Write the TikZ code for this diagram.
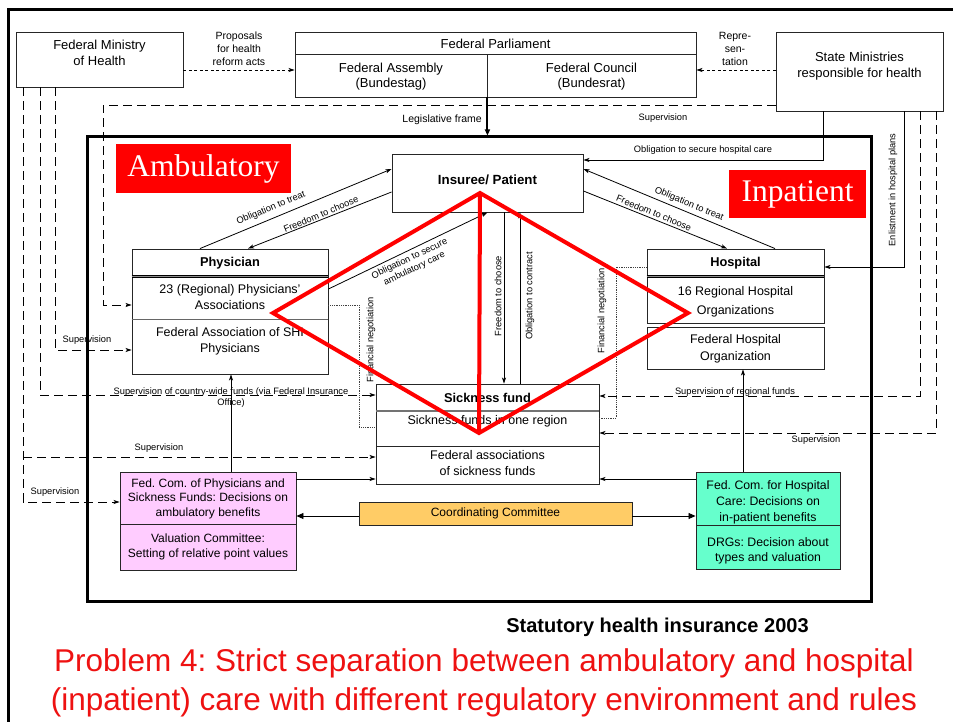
\documentclass[tikz,border=0pt]{standalone}
\usepackage{fontspec}
\setmainfont{Liberation Sans}
\newfontfamily\serifface{Liberation Serif}
\usetikzlibrary{arrows.meta,calc}
\frenchspacing

\definecolor{pinkbox}{HTML}{FFCCFF}
\definecolor{greenbox}{HTML}{66FFCC}
\definecolor{orangebox}{HTML}{FFCC66}
\definecolor{alarm}{HTML}{FF0000}
\definecolor{title}{HTML}{EE1111}

\begin{document}
\begin{tikzpicture}[x=1pt,y=-1pt,
  box/.style={draw=black!85, line width=0.9pt, inner sep=0pt},
  txt/.style={inner sep=0pt, align=center, font=\fontsize{12.5}{15.5}\selectfont},
  bold/.style={inner sep=0pt, align=center, font=\fontsize{12.8}{15}\selectfont\bfseries},
  small/.style={inner sep=0pt, align=center, font=\fontsize{9.3}{11}\selectfont},
  mid/.style={inner sep=0pt, align=center, font=\fontsize{10.5}{13}\selectfont},
  tag/.style={fill=alarm, inner sep=0pt, text=white, font=\fontsize{31.5}{34}\selectfont\serifface},
  arr/.style={line width=0.8pt, -{Stealth[length=6pt,width=4pt,inset=1.5pt]}},
  dsh/.style={dash pattern=on 9pt off 5pt},
  fdsh/.style={dash pattern=on 3pt off 2.5pt},
  dot/.style={line width=0.6pt, black!75, dash pattern=on 0.8pt off 1pt},
  tri/.style={line width=0.8pt, -{Triangle[length=7pt,width=6pt]}},
  redline/.style={alarm, line width=4pt, line join=miter}
]
\useasboundingbox (0,0) rectangle (953,722);

% frames
\draw[line width=3pt] (8,722) -- (8,10) -- (953,10);
\node[draw, line width=3pt, minimum width=784, minimum height=464, inner sep=0pt] (shi) at (479,369) {};

% top row
\node[box, minimum width=167, minimum height=55] (fmh) at (99.5,59.5) {};
\node[txt, font=\fontsize{13}{16}\selectfont] (fmht) at (99.5,53) {Federal Ministry\\of Health};

\node[box, minimum width=401, minimum height=22] (fpt) at (495.5,43) {};
\node[txt, font=\fontsize{13}{16}\selectfont] (fptt) at (495.5,44) {Federal Parliament};
\node[box, minimum width=192, minimum height=43] (fa) at (391,75.5) {};
\node[txt, font=\fontsize{13}{15.5}\selectfont] (fat) at (391,76.5) {Federal Assembly\\(Bundestag)};
\node[box, minimum width=209, minimum height=43] (fc) at (591.5,75.5) {};
\node[txt, font=\fontsize{13}{15.5}\selectfont] (fct) at (591.5,76.5) {Federal Council\\(Bundesrat)};

\node[box, minimum width=167, minimum height=79] (sm) at (859.5,71.5) {};
\node[txt, font=\fontsize{13}{16}\selectfont] (smt) at (859.5,66.5) {State Ministries\\responsible for health};

\node[mid] (prop) at (239,49) {Proposals\\for health\\reform acts};
\node[mid] (rep) at (735,49) {Repre-\\sen-\\tation};
\node[mid, anchor=east] (legt) at (482,120) {Legislative frame};

% patient
\node[box, minimum width=191, minimum height=58] (pat) at (487.5,183) {};
\node[bold, font=\fontsize{13.3}{15}\selectfont\bfseries] (patt) at (487.5,180) {Insuree/ Patient};

% physician
\node[box, minimum width=196, minimum height=27] (ph1) at (230,262.5) {};
\node[box, minimum width=196, minimum height=43] (ph2) at (230,297.5) {};
\node[box, minimum width=196, minimum height=55] (ph3) at (230,346.5) {};
\draw[line width=0.6pt, double=black!45, double distance=1.3pt] (ph1.south west) -- (ph1.south east);
\draw[black!60, line width=1.6pt] (ph2.south west) -- (ph2.south east);
\node[bold] (ph1t) at (230,263) {Physician};
\node[txt] (ph2t) at (230,297) {23 (Regional) Physicians'\\Associations};
\node[txt] (ph3t) at (230,341.5) {Federal Association of SHI\\Physicians};

% hospital
\node[box, minimum width=177, minimum height=27] (ho1) at (735.5,262.5) {};
\node[box, minimum width=177, minimum height=47] (ho2) at (735.5,299.5) {};
\node[box, minimum width=177, minimum height=42] (ho3) at (735.5,348) {};
\draw[line width=0.6pt, double=black!45, double distance=1.3pt] (ho1.south west) -- (ho1.south east);
\node[bold] (ho1t) at (735.5,263) {Hospital};
\node[txt, font=\fontsize{12.5}{19}\selectfont] (ho2t) at (735.5,301.5) {16 Regional Hospital\\Organizations};
\node[txt, font=\fontsize{12.5}{17}\selectfont] (ho3t) at (735.5,348.5) {Federal Hospital\\Organization};

% sickness fund
\node[box, minimum width=223, minimum height=27] (sf1) at (487.5,397.5) {};
\node[box, minimum width=223, minimum height=35] (sf2) at (487.5,428.5) {};
\node[box, minimum width=223, minimum height=38] (sf3) at (487.5,465) {};
\draw[black!55, line width=2pt] (sf1.south west) -- (sf1.south east);
\node[bold] (sf1t) at (487.5,398) {Sickness fund};
\node[txt] (sf2t) at (487.5,421) {Sickness funds in one region};
\node[txt, font=\fontsize{12.5}{16}\selectfont] (sf3t) at (487.5,463) {Federal associations\\of sickness funds};

% committees
\node[box, fill=pinkbox, minimum width=176, minimum height=52] (pk1) at (208,498) {};
\node[box, fill=pinkbox, minimum width=176, minimum height=46] (pk2) at (208,547) {};
\node[txt, font=\fontsize{12}{14.5}\selectfont] (pk1t) at (208,498.5) {Fed. Com. of Physicians and\\Sickness Funds: Decisions on\\ambulatory benefits};
\node[txt, font=\fontsize{12}{14.5}\selectfont] (pk2t) at (208,547) {Valuation Committee:\\Setting of relative point values};

\node[box, fill=orangebox, minimum width=273, minimum height=23] (cc) at (495.5,513.5) {};
\node[txt, font=\fontsize{12}{14}\selectfont] (cct) at (495.5,513.5) {Coordinating Committee};

\node[box, fill=greenbox, minimum width=144, minimum height=53] (gr1) at (768,498.5) {};
\node[box, fill=greenbox, minimum width=144, minimum height=44] (gr2) at (768,547) {};
\node[txt, font=\fontsize{12.3}{16}\selectfont] (gr1t) at (768,502) {Fed. Com. for Hospital\\Care: Decisions on\\in-patient benefits};
\node[txt, font=\fontsize{12.3}{15}\selectfont] (gr2t) at (768,550.5) {DRGs: Decision about\\types and valuation};

% sector tags
\node[tag, minimum width=175, minimum height=49] (amb) at (203.5,168.5) {Ambulatory};
\node[tag, minimum width=137, minimum height=48] (inp) at (797.5,194) {Inpatient};

% legislation and representation
\draw[fdsh, arr] (fmh.east |- 0,70) -- (fa.west |- 0,70);
\draw[fdsh, arr] (sm.west |- 0,70) -- (fc.east |- 0,70);
\draw[line width=2pt, -{Triangle[length=6pt,width=5pt]}] (fa.south east) -- (fa.south east |- shi.north);

% supervision by the federal ministry
\draw[dsh, arr] (fmh.south -| 23,0) -- (23,502) -- (pk1.west |- 0,502);
\draw[dsh, arr] (23,457) -- (sf3.west |- 0,457);
\draw[dsh, arr] (fmh.south -| 40,0) -- (40,395) -- (sf1.west |- 0,395);
\draw[dsh, arr] (fmh.south -| 55,0) -- (55,350) -- (ph3.west |- 0,350);
\node[small] (sv1) at (55,492) {Supervision};
\node[small] (sv2) at (159,448) {Supervision};
\node[small] (sv3) at (87,340) {Supervision};
\node[small] (sv4) at (231,397.5) {Supervision of country-wide funds (via Federal Insurance\\Office)};

% state ministries
\draw[dsh, arr] (sm.west |- 0,105) -- (103,105) -- (103,305) -- (ph2.west |- 0,305);
\node[small] (sv5) at (663,118) {Supervision};
\draw[arr] (sm.south -| 823,0) -- (823,160) -- (pat.east |- 0,160);
\node[small] (osh) at (703,150) {Obligation to secure hospital care};
\draw[arr] (sm.south -| 904,0) -- (904,267) -- (ho1.east |- 0,267);
\node[small, rotate=90] (enl) at (893,190) {Enlistment in hospital plans};
\draw[dsh, arr] (sm.south -| 920,0) -- (920,396) -- (sf1.east |- 0,396);
\node[small] (svr) at (735,392) {Supervision of regional funds};
\draw[dsh, arr] (sm.south -| 936,0) -- (936,433) -- (sf2.east |- 0,433);
\node[small] (sv6) at (816,440) {Supervision};

% patient relations
\draw[arr] (ph1.north -| 200,0) -- (pat.west |- 0,169);
\draw[arr] (pat.west |- 0,192) -- (ph1.north -| 248,0);
\node[small, rotate=22.7] (pot) at (271,208) {Obligation to treat};
\node[small, rotate=22.7] (pfc) at (321,214) {Freedom to choose};
\draw[arr] (ho1.north -| 775,0) -- (pat.east |- 0,169);
\draw[arr] (pat.east |- 0,191) -- (ho1.north -| 727,0);
\node[small, rotate=-22.6] (hot) at (689,204) {Obligation to treat};
\node[small, rotate=-22.6] (hfc) at (654,213) {Freedom to choose};
\draw[arr] (ph2.east |- 0,289) -- (pat.south);
\node[small, rotate=25.6] (osa) at (412,264) {Obligation to secure\\ambulatory care};
\draw[arr] (pat.south -| 504,0) -- (sf1.north -| 504,0);
\draw[arr] (sf1.north -| 520,0) -- (pat.south -| 520,0);
\node[small, rotate=90] (sfc) at (498,296) {Freedom to choose};
\node[small, rotate=90] (soc) at (530,296) {Obligation to contract};

% financial negotiations
\draw[dot] (ph2.east |- 0,305) -- (359,305) -- (359,427) -- (sf2.west |- 0,427);
\node[small, rotate=90] (fnl) at (371,340) {Financial negotiation};
\draw[dot] (ho1.west |- 0,267) -- (616,267) -- (616,418) -- (sf2.east |- 0,418);
\node[small, rotate=90] (fnr) at (602,311) {Financial negotiation};

% committees to providers and funds
\draw[arr] (pk1.north -| 231,0) -- (ph3.south -| 231,0);
\draw[arr] (gr1.north -| 743,0) -- (ho3.south -| 743,0);
\draw[arr] (pk1.east |- 0,479) -- (sf3.west |- 0,479);
\draw[arr] (gr1.west |- 0,479) -- (sf3.east |- 0,479);
\draw[tri] (cc.west |- 0,516) -- (pk1.east |- 0,516);
\draw[tri] (cc.east |- 0,516) -- (gr1.west |- 0,516);

% separation of sectors
\coordinate (dT) at (480,193);
\coordinate (dR) at (688,313);
\coordinate (dB) at (479,433);
\coordinate (dL) at (273,313);
\draw[redline] (dT) -- (dR) -- (dB) -- (dL) -- cycle;
\draw[redline] (dT) -- (dB);

% captions
\node[inner sep=0pt, font=\fontsize{20}{24}\selectfont\bfseries] (cap) at (657.5,627) {Statutory health insurance 2003};
\node[inner sep=0pt, align=center, text=title, font=\fontsize{31.5}{39}\selectfont] (prob) at (484,682.5) {Problem 4: Strict separation between ambulatory and hospital\\(inpatient) care with different regulatory environment and rules};
\end{tikzpicture}
\end{document}
